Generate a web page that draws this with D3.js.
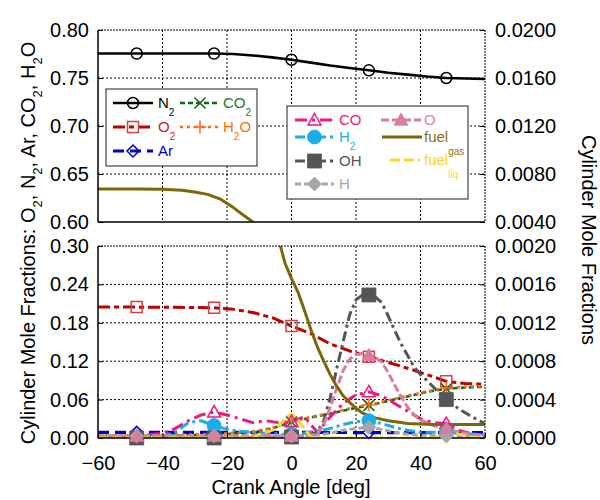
<!DOCTYPE html>
<html><head><meta charset="utf-8">
<script src="https://cdn.jsdelivr.net/npm/d3@7"></script>
<style>body{margin:0;background:#fff} svg{font-family:"Liberation Sans",Arial,sans-serif}</style>
</head><body><svg id="c" width="600" height="500"></svg>
<script>
// ---------- tick labels ----------
const crankTicks = [-60,-40,-20,0,20,40,60];
const leftTopTicks = [0.60,0.65,0.70,0.75,0.80];
const leftBotTicks = [0.00,0.06,0.12,0.18,0.24,0.30];
const rightTopTicks = [0.0040,0.0080,0.0120,0.0160,0.0200];
const rightBotTicks = [0.0000,0.0004,0.0008,0.0012,0.0016,0.0020];
const markerAngles = [-48,-24,0,24,48];

// ---------- major species (left axis) ----------
const n2Angle = [-60,-48,-36,-24,-18,-12,-6,0,6,12,18,24,30,36,42,48,54,60];
const n2Frac  = [0.7755,0.7755,0.7755,0.7755,0.775,0.7735,0.7715,0.769,0.766,0.763,0.7605,0.758,0.7555,0.7535,0.7515,0.750,0.7495,0.749];
const o2Angle = [-60,-48,-36,-24,-18,-12,-6,0,6,12,18,24,30,36,42,48,54,60];
const o2Frac  = [0.2045,0.2045,0.2042,0.2035,0.201,0.196,0.188,0.175,0.163,0.147,0.136,0.127,0.118,0.109,0.099,0.0885,0.085,0.084];
const arAngle = [-60,-48,-36,-24,-12,0,12,24,36,48,60];
const arFrac  = [0.0088,0.0088,0.0088,0.0088,0.0088,0.0087,0.0086,0.0085,0.0085,0.0084,0.0084];
const co2Angle = [-60,-48,-36,-24,-18,-12,-6,0,6,12,18,24,30,36,42,48,54,60];
const co2Frac  = [0.003,0.003,0.004,0.005,0.007,0.009,0.015,0.025,0.032,0.038,0.045,0.051,0.058,0.065,0.072,0.077,0.079,0.080];
const h2oAngle = [-60,-48,-36,-24,-18,-12,-6,0,6,12,18,24,30,36,42,48,54,60];
const h2oFrac  = [0.004,0.004,0.005,0.006,0.008,0.010,0.016,0.026,0.033,0.039,0.046,0.052,0.059,0.066,0.073,0.078,0.080,0.081];

// ---------- minor species (right axis) ----------
const coAngle = [-60,-48,-40,-36,-32,-28,-24,-20,-16,-12,-8,-4,0,4,8,12,16,20,24,28,32,36,40,44,48,52,56,60];
const coFrac  = [0.00001,0.00002,0.00005,0.0001,0.00018,0.00024,0.00027,0.00024,0.0002,0.00016,0.00018,0.00016,0.00017,0.00022,0.00006,0.00022,0.00036,0.00045,0.00048,0.00044,0.00036,0.00028,0.0002,0.00016,0.00015,0.00008,0.00004,0.00001];
const h2Angle = [-60,-48,-40,-36,-32,-28,-24,-20,-16,-12,-8,-4,0,4,8,12,16,20,24,28,32,36,40,44,48,52,56,60];
const h2Frac  = [0.00001,0.00001,0.00002,0.00006,0.00016,0.00018,0.00013,0.00009,0.00007,0.00006,0.00005,0.00004,0.00004,0.00005,0.00007,0.0001,0.00014,0.00017,0.00018,0.00015,0.00011,0.00008,0.00006,0.00006,0.00006,0.00005,0.00004,0.00003];
const ohAngle = [-60,-48,-36,-24,-12,0,4,8,10,12,14,16,18,20,22,24,26,28,30,32,34,36,38,40,42,44,48,52,56,60];
const ohFrac  = [0,0,0,0,0,0.00001,0.00002,0.00006,0.00018,0.00042,0.00072,0.001,0.00128,0.00144,0.00149,0.00149,0.00147,0.00141,0.00127,0.00112,0.00098,0.00086,0.00074,0.00066,0.0006,0.00053,0.0004,0.0003,0.00022,0.00015];
const hAngle = [-60,-48,-24,0,8,12,16,20,24,28,32,36,40,48,60];
const hFrac  = [0.00002,0.00002,0.00002,0.00002,0.00003,0.00005,0.00008,0.0001,0.00011,0.00009,0.00006,0.00004,0.00003,0.00002,0.00001];
const oAngle = [-60,-48,-36,-24,-12,0,4,8,10,12,14,16,18,20,22,24,26,28,30,32,34,36,38,40,44,48,52,56,60];
const oFrac  = [0.00002,0.00002,0.00002,0.00002,0.00002,0.00002,0.00002,0.00004,0.00014,0.00032,0.00052,0.0007,0.00082,0.00087,0.00088,0.00086,0.00084,0.00079,0.00068,0.00055,0.00043,0.00032,0.00024,0.00019,0.00013,0.0001,0.00006,0.00004,0.00003];
const fuelGasAngle = [-60,-48,-40,-34,-30,-26,-22,-18,-16,-14,-12,-10,-8,-6,-4,-2,0,2,4,6,8,10,12,14,16,18,20,22,26,30,36,44,60];
const fuelGasFrac  = [0.00675,0.00675,0.00672,0.00665,0.0065,0.0063,0.0059,0.0052,0.00478,0.0044,0.0040,0.0035,0.0030,0.0025,0.00207,0.00182,0.00166,0.00152,0.00133,0.00113,0.00095,0.0008,0.00066,0.00054,0.00044,0.00037,0.00031,0.00026,0.00021,0.00018,0.00015,0.00014,0.00014];
const fuelLiqAngle = [-60,-48,-24,-12,-10,-6,-4,-2,0,2,4,6,8,12,24,36,44,48,50,52,56,60];
const fuelLiqFrac  = [0,0,0,0,0.00004,0.00008,0.00012,0.0002,0.00025,0.00019,0.0001,0.00001,0,0,0,0,0,0.00003,0.00006,0.00004,0.00001,0];

const series = [
  {name:"N", sub:"2", ax:"L", xs:n2Angle, ys:n2Frac, color:"#000000", dash:null, w:2.6, mk:"circle", fill:false, ms:5.5, mc:"#000"},
  {name:"O", sub:"2", ax:"L", xs:o2Angle, ys:o2Frac, color:"#c00000", dash:"12,4,5,4", w:3, mk:"square", fill:false, ms:5.5, mc:"#d94040"},
  {name:"Ar", sub:"", ax:"L", xs:arAngle, ys:arFrac, color:"#0000cc", dash:"11,6", w:3.2, mk:"diamond", fill:false, ms:6, mc:"#0000cc"},
  {name:"CO", sub:"2", ax:"L", xs:co2Angle, ys:co2Frac, color:"#0d6b1a", dash:"5,3", w:2.6, mk:"x", fill:false, ms:5.5, mc:"#0d6b1a"},
  {name:"H", sub:"2", after:"O", ax:"L", xs:h2oAngle, ys:h2oFrac, color:"#ff6a10", dash:"3,4", w:2.6, mk:"plus", fill:false, ms:6.5, mc:"#ff6a10"},
  {name:"CO", sub:"", ax:"R", xs:coAngle, ys:coFrac, color:"#f0187f", dash:"12,5,3,5", w:3, mk:"triangle", fill:false, ms:6.5, mc:"#f0187f"},
  {name:"H", sub:"2", ax:"R", xs:h2Angle, ys:h2Frac, color:"#19aeea", dash:"10,4,3,4", w:3, mk:"circle", fill:true, ms:7, mc:"#19aeea"},
  {name:"OH", sub:"", ax:"R", xs:ohAngle, ys:ohFrac, color:"#555555", dash:"10,4,3,4", w:3, mk:"square", fill:true, ms:7, mc:"#555555"},
  {name:"H", sub:"", ax:"R", xs:hAngle, ys:hFrac, color:"#a6a6a6", dash:"6,3", w:3, mk:"diamond", fill:true, ms:7, mc:"#a6a6a6"},
  {name:"O", sub:"", ax:"R", xs:oAngle, ys:oFrac, color:"#d97d9c", dash:"8,3", w:3, mk:"triangle", fill:true, ms:7, mc:"#d97d9c"},
  {name:"fuel", sub:"gas", ax:"R", xs:fuelGasAngle, ys:fuelGasFrac, color:"#7d6608", dash:null, w:3, mk:null},
  {name:"fuel", sub:"liq", ax:"R", xs:fuelLiqAngle, ys:fuelLiqFrac, color:"#ffd22a", dash:"10,4", w:3, mk:null}
];

const svg = d3.select("#c");
const X0 = 98, X1 = 485;
const x = d3.scaleLinear([-60,60],[X0,X1]);
const panels = [
  {id:"top", y0:30, y1:222, yL:d3.scaleLinear([0.6,0.8],[222,30]), yR:d3.scaleLinear([0.004,0.02],[222,30]), lt:leftTopTicks, rt:rightTopTicks},
  {id:"bot", y0:246, y1:438, yL:d3.scaleLinear([0,0.3],[438,246]), yR:d3.scaleLinear([0,0.002],[438,246]), lt:leftBotTicks, rt:rightBotTicks}
];

function markerPath(type, s){
  switch(type){
    case "square": return `M${-s},${-s}H${s}V${s}H${-s}Z`;
    case "diamond": return `M0,${-s}L${s},0L0,${s}L${-s},0Z`;
    case "triangle": return `M0,${-s}L${s},${s*0.75}L${-s},${s*0.75}Z`;
    case "x": return `M${-s},${-s}L${s},${s}M${-s},${s}L${s},${-s}`;
    case "plus": return `M${-s},0H${s}M0,${-s}V${s}`;
    case "circle": return d3.arc()({innerRadius:0,outerRadius:s,startAngle:0,endAngle:2*Math.PI});
  }
}
function drawMarker(g, s, cx, cy){
  g.append("path").attr("d", markerPath(s.mk, s.ms)).attr("transform",`translate(${cx},${cy})`)
    .attr("fill", s.fill ? s.mc : "none").attr("stroke", s.mc)
    .attr("stroke-width", s.fill ? 0.8 : 1.5);
}

const defs = svg.append("defs");
panels.forEach(p=>{
  defs.append("clipPath").attr("id","clip-"+p.id).append("rect")
    .attr("x",X0).attr("y",p.y0).attr("width",X1-X0).attr("height",p.y1-p.y0);
  const g = svg.append("g");
  // grid
  g.selectAll(".vg").data(crankTicks.slice(1,-1)).join("line")
    .attr("x1",d=>x(d)).attr("x2",d=>x(d)).attr("y1",p.y0).attr("y2",p.y1)
    .attr("stroke","#000").attr("stroke-width",1).attr("stroke-dasharray","2,2");
  g.selectAll(".hg").data(p.lt.slice(1,-1)).join("line")
    .attr("x1",X0).attr("x2",X1).attr("y1",d=>p.yL(d)).attr("y2",d=>p.yL(d))
    .attr("stroke","#000").attr("stroke-width",1).attr("stroke-dasharray","2,2");
  // data
  const dg = g.append("g").attr("clip-path",`url(#clip-${p.id})`);
  const mg = g.append("g");
  series.forEach(s=>{
    const y = s.ax==="L" ? p.yL : p.yR;
    const pts = s.xs.map((a,i)=>[a,s.ys[i]]);
    dg.append("path").datum(pts)
      .attr("d", d3.line().x(d=>x(d[0])).y(d=>y(d[1])))
      .attr("fill","none").attr("stroke",s.color).attr("stroke-width",s.w)
      .attr("stroke-dasharray",s.dash).attr("stroke-linejoin","round");
    if(s.mk){
      const dom = y.domain();
      markerAngles.forEach(a=>{
        const i = s.xs.indexOf(a);
        if(i<0) return;
        const v = s.ys[i];
        if(v < dom[0]-1e-9 || v > dom[1]+1e-9) return;
        drawMarker(dg.append("g").attr("clip-path",null), s, x(a), y(v));
      });
    }
  });
  // frame
  g.append("line").attr("x1",X0).attr("x2",X1).attr("y1",p.y0).attr("y2",p.y0).attr("stroke","#000").attr("stroke-dasharray","2,1");
  g.append("line").attr("x1",X1).attr("x2",X1).attr("y1",p.y0).attr("y2",p.y1).attr("stroke","#000").attr("stroke-dasharray","2,1");
  g.append("line").attr("x1",X0).attr("x2",X1).attr("y1",p.y1).attr("y2",p.y1).attr("stroke","#000").attr("stroke-width",1.5);
  g.append("line").attr("x1",X0).attr("x2",X0).attr("y1",p.y0).attr("y2",p.y1).attr("stroke","#000").attr("stroke-width",1.5);
  // axes
  const la = g.append("g").attr("transform",`translate(${X0},0)`)
    .call(d3.axisLeft(p.yL).tickValues(p.lt).tickFormat(d3.format(".2f")).tickSize(-5).tickPadding(9));
  const ra = g.append("g").attr("transform",`translate(${X1},0)`)
    .call(d3.axisRight(p.yR).tickValues(p.rt).tickFormat(d3.format(".4f")).tickSize(-5).tickPadding(10));
  [la,ra].forEach(a=>{a.select(".domain").remove(); a.selectAll("text").attr("font-size",20).attr("fill","#000").attr("font-family","Liberation Sans, Arial, sans-serif");});
  if(p.id==="bot"){
    const ba = g.append("g").attr("transform",`translate(0,${p.y1})`)
      .call(d3.axisBottom(x).tickValues(crankTicks).tickSize(-5).tickPadding(18));
    ba.select(".domain").remove();
    ba.selectAll("text").attr("font-size",20).attr("fill","#000").attr("font-family","Liberation Sans, Arial, sans-serif");
  }
});

// markers outside clip: move marker groups out of clip (they were appended inside dg); re-parent
svg.selectAll("g[clip-path] > g").each(function(){ this.parentNode.parentNode.appendChild(this); });

// axis titles
svg.append("text").attr("x",291).attr("y",494).attr("text-anchor","middle").attr("font-size",20).text("Crank Angle [deg]");
const lt = svg.append("text").attr("transform","translate(35,243) rotate(-90)").attr("text-anchor","middle").attr("font-size",20);
[["Cylinder Mole Fractions: O",""],["2","s"],[", N",""],["2","s"],[", Ar, CO",""],["2","s"],[", H",""],["2","s"],["O",""]].forEach(([t,k])=>{
  const ts = lt.append("tspan").text(t);
  if(k==="s") ts.attr("font-size",13).attr("dy",7);
  else ts.attr("dy", t.startsWith("Cyl") ? 0 : -7);
});
svg.append("text").attr("transform","translate(582,240) rotate(90)").attr("text-anchor","middle").attr("font-size",20).text("Cylinder Mole Fractions");

// legends
function legendEntry(g, s, lx0, lx1, ly, tx){
  g.append("line").attr("x1",lx0).attr("x2",lx1).attr("y1",ly).attr("y2",ly)
    .attr("stroke",s.color).attr("stroke-width",s.w).attr("stroke-dasharray",s.dash);
  if(s.mk) drawMarker(g, s, (lx0+lx1)/2, ly);
  const t = g.append("text").attr("x",tx).attr("y",ly+5).attr("font-size",15).attr("fill",s.legendColor||s.color);
  t.append("tspan").text(s.name);
  if(s.sub){
    t.append("tspan").attr("font-size", s.sub.length>1?10:10).attr("dy", s.sub.length>1?13:8).text(s.sub);
  }
  if(s.after){ t.append("tspan").attr("dy",-8).text(s.after); }
}
const lg1 = svg.append("g");
lg1.append("rect").attr("x",106).attr("y",89).attr("width",151).attr("height",77).attr("fill","#fff").attr("stroke","#444").attr("stroke-width",1.2);
legendEntry(lg1, series[0], 113,153,103,158);
legendEntry(lg1, Object.assign({},series[1],{legendColor:"#d42020"}), 113,153,127,158);
legendEntry(lg1, series[2], 113,153,151,158);
legendEntry(lg1, Object.assign({},series[3],{legendColor:"#1a7a2a"}), 180,220,103,223);
legendEntry(lg1, series[4], 180,220,127,223);

const lg2 = svg.append("g");
lg2.append("rect").attr("x",287).attr("y",106).attr("width",181).attr("height",93).attr("fill","#fff").attr("stroke","#444").attr("stroke-width",1.2);
legendEntry(lg2, series[5], 295,334,120,339);
legendEntry(lg2, series[6], 295,334,137,339);
legendEntry(lg2, series[7], 295,334,161,339);
legendEntry(lg2, series[8], 295,334,184,339);
legendEntry(lg2, Object.assign({},series[9],{legendColor:"#e0869f"}), 381,421,120,424);
legendEntry(lg2, Object.assign({},series[10],{legendColor:"#8a7410"}), 382,422,137,424);
legendEntry(lg2, Object.assign({},series[11],{legendColor:"#ffd22a"}), 390,420,160,424);
</script></body></html>
